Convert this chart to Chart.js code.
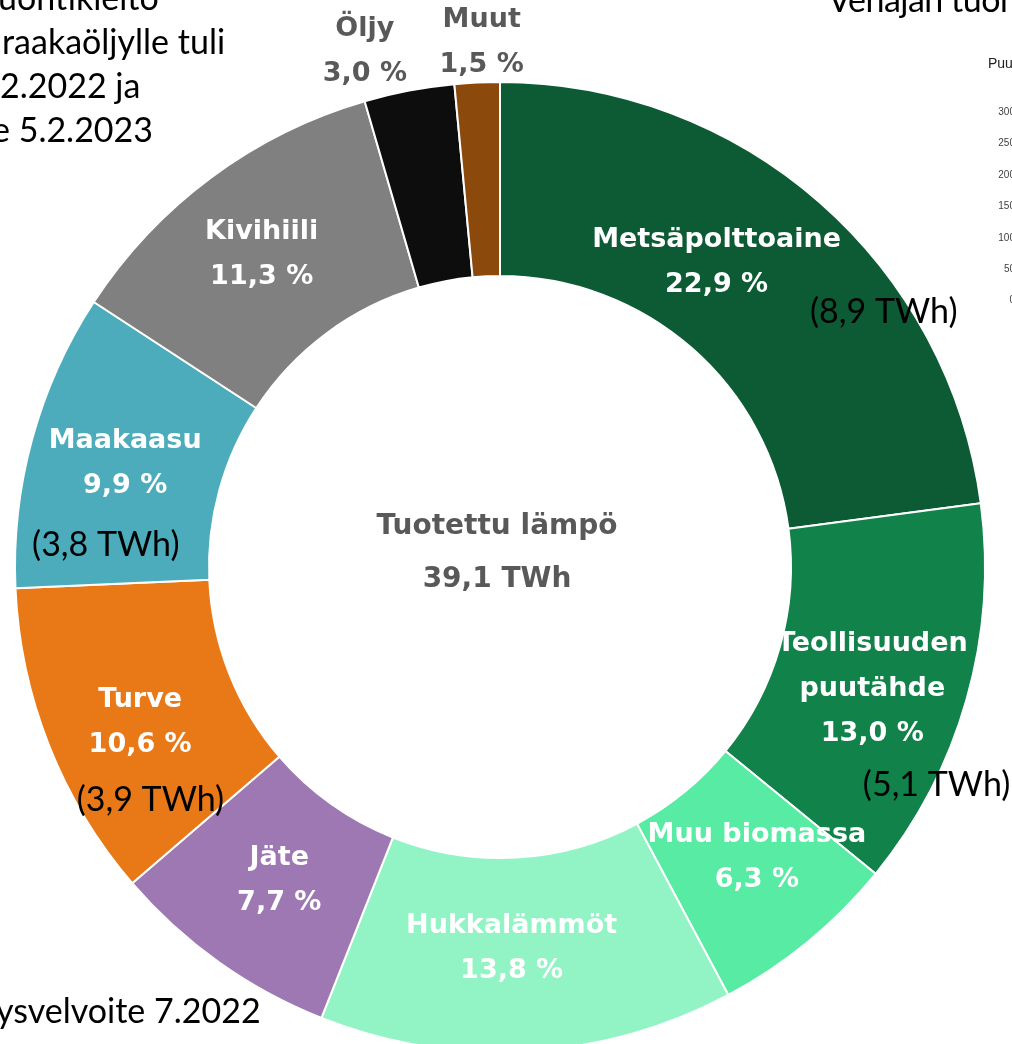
<!DOCTYPE html>
<html>
<head>
<meta charset="utf-8">
<script src="https://cdn.jsdelivr.net/npm/chart.js@4"></script>
<style>
  html, body { margin: 0; padding: 0; width: 1012px; height: 1044px; overflow: hidden; background: #fff; }
  #lampo { position: absolute; left: 0; top: 0; }
  .slide { position: absolute; font-family: Lato, sans-serif; font-size: 34px; line-height: 34px; color: #000; white-space: nowrap; }
  .tick { position: absolute; font-family: 'Liberation Sans', Arial, sans-serif; font-size: 10px; line-height: 10px; color: #404040; text-align: right; width: 30px; }
</style>
</head>
<body>
<canvas id="lampo" width="1012" height="1060"></canvas>

<div class="slide" style="left:-2px; top:-20px;">uontikielto</div>
<div class="slide" style="left:2px; top:24px;">raakaöljylle tuli</div>
<div class="slide" style="left:0px; top:68px;">2.2022 ja</div>
<div class="slide" style="left:-8px; top:112px;">e 5.2.2023</div>
<div class="slide" style="left:828px; top:-18px; letter-spacing:-0.5px;">Venäjän tuonti</div>
<div class="slide" style="left:-4px; top:993px;">ysvelvoite 7.2022</div>
<div class="tick" style="left:988px; top:56px; text-align:left; font-size:14px; line-height:14px; color:#222; width:60px;">Puu</div>
<div id="sideAxis"></div>

<script>
// lämmöntuotannon polttoaineet, osuus %
var categories = ['Metsäpolttoaine', ['Teollisuuden', 'puutähde'], 'Muu biomassa', 'Hukkalämmöt',
                  'Jäte', 'Turve', 'Maakaasu', 'Kivihiili', 'Öljy', 'Muut'];
var shares = [22.9, 13.0, 6.3, 13.8, 7.7, 10.6, 9.9, 11.3, 3.0, 1.5];
var energyTWh = [8.9, 5.1, null, null, null, 3.9, 3.8, null, null, null];
var totalTWh = 39.1;
var colors = ['#0c5b34', '#11824a', '#58eba4', '#92f4c4', '#9d78b3',
              '#e97816', '#4cacbb', '#808080', '#0d0d0d', '#8b4a0c'];
var sideTicks = ['300', '250', '200', '150', '100', '50', '0'];

function fi(v) { return v.toFixed(1).replace('.', ','); }

// pieni akseli oikeassa reunassa (toisen kuvaajan jäänne)
var axisHtml = '';
for (var i = 0; i < sideTicks.length; i++) {
  axisHtml += '<div class="tick" style="left:985px; top:' + (107 + i * 31.4) + 'px;">' + sideTicks[i] + '</div>';
}
document.getElementById('sideAxis').innerHTML = axisHtml;

var labelSpots = [
  { t: 0.43, r: 0.77 }, { t: 0.55, r: 0.808 }, { t: 0.41, r: 0.80 }, { t: 0.53, r: 0.786 },
  { t: 0.49, r: 0.79 }, { t: 0.455, r: 0.808 }, { t: 0.505, r: 0.802 }, { t: 0.48, r: 0.81 },
  { t: 0.14, r: 1.099, out: true }, { t: 0.63, r: 1.082, out: true }
];
var energySpots = [
  { t: 0.684, r: 0.95 }, { t: 0.728, r: 1.006 }, null, null, null,
  { t: 0.184, r: 0.866 }, { t: 0.16, r: 0.814 }, null, null, null
];

function spot(arc, s) {
  var a = arc.startAngle + s.t * (arc.endAngle - arc.startAngle);
  return { x: arc.x + Math.cos(a) * arc.outerRadius * s.r, y: arc.y + Math.sin(a) * arc.outerRadius * s.r };
}

var labelPlugin = {
  id: 'lampoLabels',
  afterDatasetsDraw: function (chart) {
    var ctx = chart.ctx;
    var arcs = chart.getDatasetMeta(0).data;
    ctx.save();
    ctx.textAlign = 'center';
    ctx.textBaseline = 'middle';
    ctx.font = 'bold 27px "DejaVu Sans"';
    arcs.forEach(function (arc, i) {
      var p = spot(arc, labelSpots[i]);
      var name = categories[i];
      var lines = (Array.isArray(name) ? name : [name]).concat([fi(shares[i]) + ' %']);
      ctx.fillStyle = labelSpots[i].out ? '#595959' : '#ffffff';
      lines.forEach(function (txt, k) {
        ctx.fillText(txt, p.x, p.y + (k - (lines.length - 1) / 2) * 45);
      });
    });

    // keskiteksti
    var c = arcs[0];
    ctx.font = 'bold 28px "DejaVu Sans"';
    ctx.fillStyle = '#595959';
    ctx.fillText('Tuotettu lämpö', c.x - 3, c.y - 40);
    ctx.fillText(fi(totalTWh) + ' TWh', c.x - 3, c.y + 13);

    // TWh-lisäykset
    ctx.font = '34px Lato';
    ctx.fillStyle = '#000000';
    arcs.forEach(function (arc, i) {
      if (energyTWh[i] == null) return;
      var p = spot(arc, energySpots[i]);
      ctx.fillText('(' + fi(energyTWh[i]) + ' TWh)', p.x, p.y);
    });
    ctx.restore();
  }
};

var ctx = document.getElementById('lampo');
var lampoChart = new Chart(ctx, {
  type: 'doughnut',
  data: {
    labels: categories,
    datasets: [{
      data: shares,
      backgroundColor: colors,
      borderColor: '#ffffff',
      borderWidth: 2
    }]
  },
  options: {
    responsive: false,
    animation: false,
    cutout: '60%',
    layout: { padding: { left: 14, right: 26, top: 81, bottom: 7 } },
    plugins: {
      legend: { display: false },
      tooltip: { enabled: false }
    }
  },
  plugins: [labelPlugin]
});
</script>
</body>
</html>
